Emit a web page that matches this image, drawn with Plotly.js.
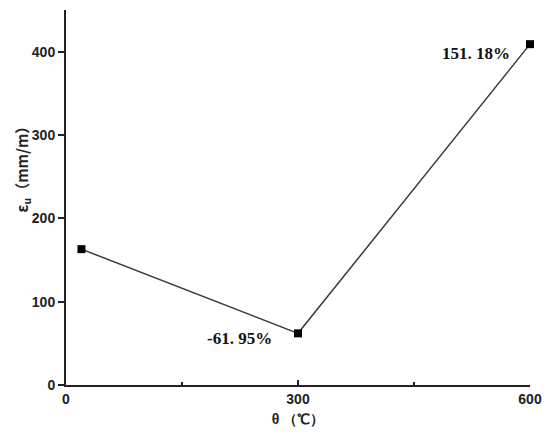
<!DOCTYPE html>
<html>
<head>
<meta charset="utf-8">
<script src="https://cdn.plot.ly/plotly-3.0.1.min.js"></script>
<style>
  html, body { margin: 0; padding: 0; background: #fff; }
  #chart { width: 550px; height: 443px; }
</style>
</head>
<body>
<div id="chart"></div>
<script>
// temperature (°C) and ultimate strain values
var temps = [20, 300, 600];
var strain = [163, 62, 409];
var changeLabels = ["-61. 95%", "151. 18%"];

var trace = {
    x: temps,
    y: strain,
    type: "scatter",
    mode: "lines+markers",
    line: { color: "#3a3a3a", width: 1.5 },
    marker: { symbol: "square", size: 8, color: "#000" },
    cliponaxis: false,
    hoverinfo: "skip"
};

var tickFont = { family: "Liberation Sans, Arial, sans-serif", size: 14, color: "#222", weight: 700 };
var noteFont = { family: "Liberation Serif, Times New Roman, serif", size: 17, color: "#111", weight: 700 };

var layout = {
    width: 550,
    height: 443,
    margin: { l: 66, r: 20, t: 10, b: 58 },
    paper_bgcolor: "#fff",
    plot_bgcolor: "#fff",
    showlegend: false,
    xaxis: {
        range: [0, 600],
        tickvals: [0, 300, 600],
        ticks: "inside",
        ticklen: 5,
        tickwidth: 2,
        tickcolor: "#222",
        minor: { tickvals: [150, 450], ticks: "inside", ticklen: 3, tickwidth: 1.5, tickcolor: "#222" },
        showline: true,
        linecolor: "#222",
        linewidth: 2,
        showgrid: false,
        zeroline: false,
        tickfont: tickFont,
        title: { text: "θ （℃）", font: tickFont, standoff: 8 }
    },
    yaxis: {
        range: [0, 450],
        tickvals: [0, 100, 200, 300, 400],
        ticks: "outside",
        ticklen: 6,
        tickwidth: 2,
        tickcolor: "#222",
        showline: true,
        linecolor: "#222",
        linewidth: 2,
        showgrid: false,
        zeroline: false,
        tickfont: tickFont
    },
    annotations: [
        {
            // y axis title, placed by hand since it sits above the middle
            x: -0.093, y: 0.585, xref: "paper", yref: "paper",
            text: "ε<sub>u</sub>（mm/m）", showarrow: false, textangle: -90,
            xanchor: "center", yanchor: "middle",
            font: { family: "Noto Sans CJK SC, sans-serif", size: 15, color: "#222", weight: 700 }
        },
        {
            x: temps[1], y: strain[1], xref: "x", yref: "y",
            text: changeLabels[0], showarrow: false,
            xanchor: "right", yanchor: "middle",
            xshift: -24, yshift: -5, font: noteFont
        },
        {
            x: temps[2], y: strain[2], xref: "x", yref: "y",
            text: changeLabels[1], showarrow: false,
            xanchor: "right", yanchor: "middle",
            xshift: -18, yshift: -9, font: noteFont
        }
    ]
};

Plotly.newPlot("chart", [trace], layout, { staticPlot: true, displayModeBar: false });
</script>
</body>
</html>
